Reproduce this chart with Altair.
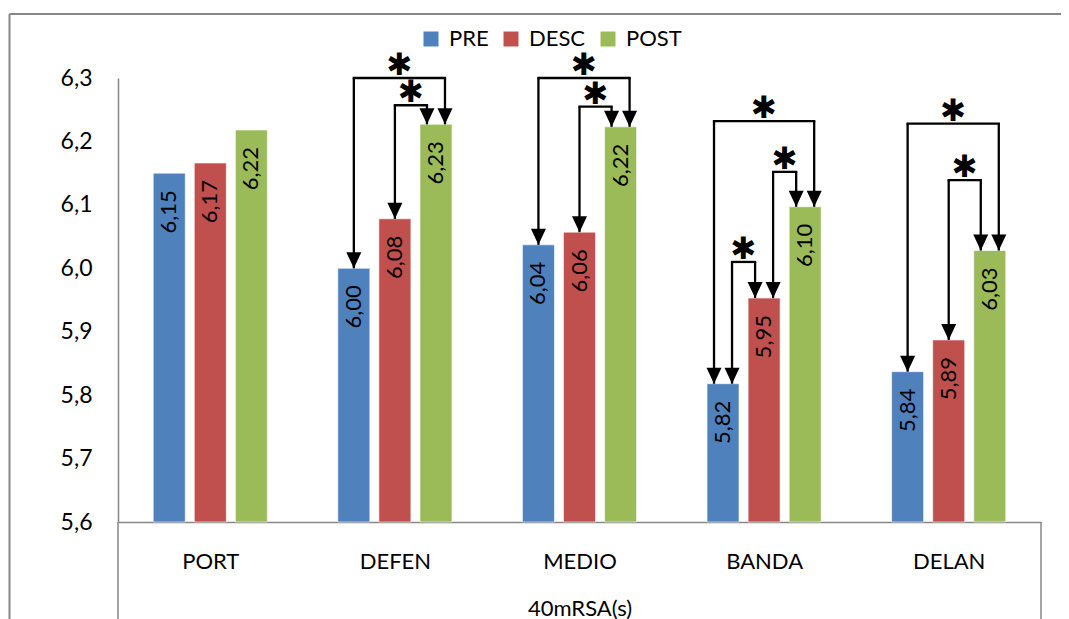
import json
import altair as alt
import pandas as pd

# ---------------- data ----------------
categories = ["PORT", "DEFEN", "MEDIO", "BANDA", "DELAN"]
series = ["PRE", "DESC", "POST"]
pre_values = [6.150, 6.000, 6.037, 5.818, 5.837]
desc_values = [6.166, 6.078, 6.057, 5.953, 5.887]
post_values = [6.218, 6.227, 6.223, 6.097, 6.028]
y_ticks = [5.6, 5.7, 5.8, 5.9, 6.0, 6.1, 6.2, 6.3]

bracket_category = ["DEFEN", "DEFEN", "MEDIO", "MEDIO", "BANDA", "BANDA", "BANDA", "DELAN", "DELAN"]
bracket_from = ["PRE", "DESC", "PRE", "DESC", "PRE", "PRE", "DESC", "PRE", "DESC"]
bracket_to = ["POST", "POST", "POST", "POST", "POST", "DESC", "POST", "POST", "POST"]
bracket_level = [6.300, 6.257, 6.300, 6.255, 6.232, 6.010, 6.152, 6.228, 6.139]
bracket_symbol = ["✱"] * 9

colors = ["#4F81BD", "#C0504D", "#9BBB59"]

# ---------------- layout constants ----------------
STEP = 0.2225   # distance between bars of a group (category units)
HALF = 0.0867   # half bar width
SIDE = 0.0488   # arrow offset when two arrows land on one bar
FONT = "Lato"
FS = 22
GRAY = "#878787"

values_by_series = {"PRE": pre_values, "DESC": desc_values, "POST": post_values}

rows = []
for ci, cat in enumerate(categories):
    for si, s in enumerate(series):
        v = values_by_series[s][ci]
        rows.append({"cat": cat, "series": s, "gi": ci, "si": si, "value": v,
                     "label": f"{v:.2f}".replace(".", ",")})
bars = pd.DataFrame(rows)
bars["pos"] = bars["gi"] + (bars["si"] - 1) * STEP
bars["x0"] = bars["pos"] - HALF
bars["x1"] = bars["pos"] + HALF
bars["base"] = y_ticks[0]


def bar_value(cat, s):
    return values_by_series[s][categories.index(cat)]


def bar_pos(cat, s):
    return categories.index(cat) + (series.index(s) - 1) * STEP


# endpoints of brackets
ends = []
for b in range(len(bracket_category)):
    c, f, t, lv = bracket_category[b], bracket_from[b], bracket_to[b], bracket_level[b]
    ends.append({"b": b, "cat": c, "s": f, "other": t, "level": lv})
    ends.append({"b": b, "cat": c, "s": t, "other": f, "level": lv})
for e in ends:
    same = [o for o in ends if o["cat"] == e["cat"] and o["s"] == e["s"]]
    d = 1 if series.index(e["other"]) > series.index(e["s"]) else -1
    if len(same) == 1:
        e["side"] = 0
    else:
        o = [x for x in same if x is not e][0]
        do = 1 if series.index(o["other"]) > series.index(o["s"]) else -1
        if d != do:
            e["side"] = d
        else:
            e["side"] = -d if e["level"] > o["level"] else d
    e["x"] = bar_pos(e["cat"], e["s"]) + e["side"] * SIDE
    e["top"] = bar_value(e["cat"], e["s"])
ends_df = pd.DataFrame(ends)

hz = []
for b in range(len(bracket_category)):
    pts = [e for e in ends if e["b"] == b]
    xa, xb = pts[0]["x"], pts[1]["x"]
    hz.append({"xa": xa, "xb": xb, "mid": (xa + xb) / 2, "level": bracket_level[b],
               "sym": bracket_symbol[b]})
hz_df = pd.DataFrame(hz)

xscale = alt.Scale(domain=[-0.5, 4.5], nice=False, zero=False)
yscale = alt.Scale(domain=[5.6, 6.3], nice=False, zero=False)

label_expr = json.dumps(categories) + "[datum.value]"

x_axis = alt.Axis(
    values=[0, 1, 2, 3, 4], labelExpr=label_expr, ticks=False, tickSize=0, grid=False,
    domainColor=GRAY, domainWidth=1.5, labelFont=FONT, labelFontSize=FS, labelColor="black",
    labelPadding=39, labelBaseline="middle", labelFlush=False, labelOverlap=False,
    title="40mRSA(s)", titleFont=FONT, titleFontSize=FS, titleFontWeight="normal",
    titleColor="black", titleY=86, titleBaseline="middle")
y_axis = alt.Axis(
    values=y_ticks, labelExpr="replace(format(datum.value, '.1f'), '.', ',')",
    ticks=False, tickSize=0, grid=False, domainColor=GRAY, domainWidth=1.5,
    labelFont=FONT, labelFontSize=23, labelColor="black", labelPadding=26,
    labelOverlap=False, title=None)


def X(field):
    return alt.X(field, scale=xscale, axis=x_axis)


def Y(field):
    return alt.Y(field, scale=yscale, axis=y_axis)


# ---------------- layers ----------------
bar_layer = alt.Chart(bars).mark_bar(stroke="white", strokeWidth=0.6).encode(
    x=X("x0:Q"),
    x2="x1:Q",
    y=Y("value:Q"),
    y2="base:Q",
    color=alt.Color("series:N", scale=alt.Scale(domain=series, range=colors), legend=alt.Legend(
        orient="none", legendX=302, legendY=-50, direction="horizontal", title=None,
        symbolType="square", symbolSize=225, symbolStrokeWidth=0, labelFont=FONT,
        labelFontSize=FS, labelColor="black", labelOffset=7, columnPadding=11, padding=0)),
)

label_layer = alt.Chart(bars).mark_text(
    angle=270, align="right", baseline="middle", dx=-17, font=FONT, fontSize=FS, color="black"
).encode(
    x=X("pos:Q"),
    y=Y("value:Q"),
    text="label:N",
)

vert_layer = alt.Chart(ends_df).mark_rule(color="black", strokeWidth=2.3).encode(
    x=X("x:Q"),
    y=Y("level:Q"),
    y2="top:Q",
)

horiz_layer = alt.Chart(hz_df).mark_rule(color="black", strokeWidth=2.3, strokeCap="square").encode(
    x=X("xa:Q"),
    x2="xb:Q",
    y=Y("level:Q"),
)

arrow_layer = alt.Chart(ends_df).mark_point(
    shape="M-1,-2.13L1,-2.13L0,0Z", size=225, filled=True, color="black", opacity=1, strokeWidth=0
).encode(
    x=X("x:Q"),
    y=Y("top:Q"),
)

star_layer = alt.Chart(hz_df).mark_text(
    font="DejaVu Sans", fontSize=31, color="black", baseline="middle", align="center", dy=-12
).encode(
    x=X("mid:Q"),
    y=Y("level:Q"),
    text="sym:N",
)

edge_layer = alt.Chart(pd.DataFrame({"edge": [-0.5, 4.5]})).mark_rule(
    color=GRAY, strokeWidth=1.5
).encode(
    x=X("edge:Q"),
    y=alt.value(444),
    y2=alt.value(545),
)

one = pd.DataFrame({"k": [0]})
frame_top = alt.Chart(one).mark_rule(color=GRAY, strokeWidth=2).encode(
    x=alt.value(-108.5), x2=alt.value(960), y=alt.value(-64)
)
frame_left = alt.Chart(one).mark_rule(color=GRAY, strokeWidth=2).encode(
    x=alt.value(-108.5), y=alt.value(-64), y2=alt.value(545)
)

chart = alt.layer(
    bar_layer, frame_top, frame_left, edge_layer, label_layer,
    vert_layer, horiz_layer, arrow_layer, star_layer
).properties(
    width=923, height=444,
    padding={"left": 110, "top": 70, "right": 20, "bottom": 97},
    autosize=alt.AutoSizeParams(type="none"),
).configure_view(stroke=None)

chart.save("out.html", embed_options={"renderer": "svg", "actions": False})
